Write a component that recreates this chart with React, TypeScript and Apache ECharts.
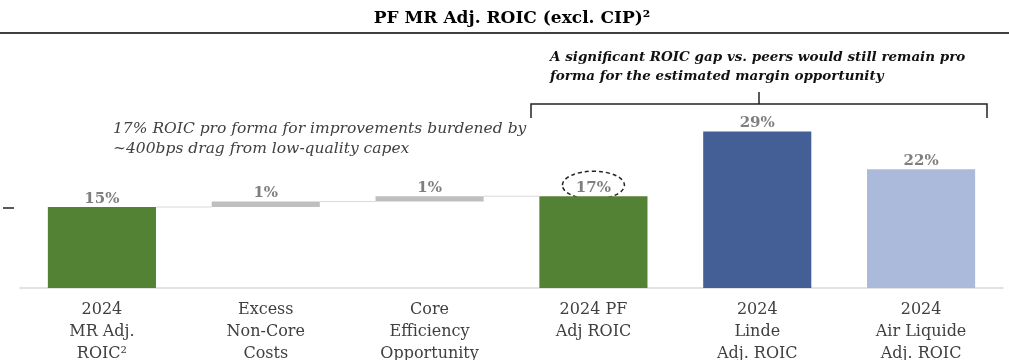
import React, { useEffect, useRef } from "react";
import * as echarts from "echarts";

const categories = [
  "2024\nMR Adj.\nROIC²",
  "Excess\nNon-Core\nCosts",
  "Core\nEfficiency\nOpportunity",
  "2024 PF\nAdj ROIC",
  "2024\nLinde\nAdj. ROIC",
  "2024\nAir Liquide\nAdj. ROIC",
];
const values = [15, 1, 1, 17, 29, 22];
const isDelta = [false, true, true, false, false, false];
const barColors = ["#548235", "#bfbfbf", "#bfbfbf", "#548235", "#445f96", "#abbadb"];
const valueLabels = ["15%", "1%", "1%", "17%", "29%", "22%"];

const titleText = "PF MR Adj. ROIC (excl. CIP)²";
const noteLeft = ["17% ROIC pro forma for improvements burdened by", "~400bps drag from low-quality capex"];
const noteRight = ["A significant ROIC gap vs. peers would still remain pro", "forma for the estimated margin opportunity"];

const SERIF = "'DejaVu Serif', 'Liberation Serif', serif";

export default function App() {
  const ref = useRef<HTMLDivElement>(null);
  useEffect(() => {
    if (!ref.current) return;
    const chart = echarts.init(ref.current, undefined, { renderer: "svg" });

    // running totals for waterfall
    const bases: number[] = [];
    const tops: number[] = [];
    let run = 0;
    values.forEach((v, i) => {
      if (isDelta[i]) {
        bases.push(run);
        run += v;
      } else {
        bases.push(0);
        run = v;
      }
      tops.push(run);
    });
    const connectors: number[][] = [];
    for (let i = 0; i < values.length - 1; i++) {
      if (isDelta[i] || isDelta[i + 1]) connectors.push([i, tops[i]]);
    }

    const option: any = {
      animation: false,
      grid: { left: 20, right: 6, top: 126, bottom: 72, outerBoundsMode: "none", containLabel: false },
      xAxis: {
        type: "category",
        data: categories,
        axisLine: { lineStyle: { color: "#d9d9d9", width: 1.5 } },
        axisTick: { show: false },
        axisLabel: {
          color: "#404040",
          fontFamily: SERIF,
          fontSize: 16,
          lineHeight: 22,
          margin: 9,
          interval: 0,
        },
      },
      yAxis: { type: "value", min: 0, max: 30, show: false, splitLine: { show: false } },
      series: [
        {
          type: "bar",
          stack: "w",
          data: bases,
          itemStyle: { color: "transparent" },
          barCategoryGap: "34%",
          silent: true,
        },
        {
          type: "bar",
          stack: "w",
          data: values.map((v, i) => ({ value: v, itemStyle: { color: barColors[i] } })),
          barCategoryGap: "34%",
          label: {
            show: true,
            position: "top",
            distance: 2,
            formatter: (p: any) => valueLabels[p.dataIndex],
            color: "#7f7f7f",
            fontWeight: "bold",
            fontFamily: SERIF,
            fontSize: 15,
          },
        },
        {
          type: "custom",
          data: connectors,
          silent: true,
          z: 1,
          renderItem: (params: any, api: any) => {
            const i = api.value(0);
            const lvl = api.value(1);
            const c = api.coord([i, lvl]);
            const band = api.size([1, 0])[0];
            const bw = band * 0.66;
            return {
              type: "line",
              shape: { x1: c[0] + bw / 2, y1: c[1], x2: c[0] + band - bw / 2, y2: c[1] },
              style: { stroke: "#d9d9d9", lineWidth: 1 },
            };
          },
        },
      ],
    };
    chart.setOption(option);

    const pf = chart.convertToPixel({ seriesIndex: 1 }, [3, values[3]]) as number[];

    chart.setOption({
      graphic: [
        {
          type: "text",
          x: 512,
          y: 17,
          style: {
            text: titleText,
            fontFamily: SERIF,
            fontWeight: "bold",
            fontSize: 17,
            fill: "#000",
            align: "center",
            verticalAlign: "middle",
          },
        },
        { type: "line", shape: { x1: 0, y1: 33, x2: 1009, y2: 33 }, style: { stroke: "#000", lineWidth: 1.5 } },
        { type: "line", shape: { x1: 3, y1: 208, x2: 14, y2: 208 }, style: { stroke: "#222", lineWidth: 1.5 } },
        {
          type: "text",
          x: 113,
          y: 118,
          style: {
            text: noteLeft.join("\n"),
            fontFamily: SERIF,
            fontStyle: "italic",
            fontSize: 15.5,
            lineHeight: 20,
            fill: "#404040",
          },
        },
        {
          type: "text",
          x: 550,
          y: 46,
          style: {
            text: noteRight.join("\n"),
            fontFamily: SERIF,
            fontStyle: "italic",
            fontWeight: "bold",
            fontSize: 13.5,
            lineHeight: 19,
            fill: "#111",
          },
        },
        {
          type: "polyline",
          shape: { points: [[531, 118], [531, 104], [987, 104], [987, 118]] },
          style: { stroke: "#222", lineWidth: 1.5, fill: "none" },
        },
        { type: "line", shape: { x1: 759, y1: 92, x2: 759, y2: 104 }, style: { stroke: "#222", lineWidth: 1.5 } },
        {
          type: "ellipse",
          shape: { cx: pf[0], cy: pf[1] - 11, rx: 31, ry: 14 },
          style: { stroke: "#222", lineWidth: 1.5, fill: "none", lineDash: [4, 3] },
        },
      ],
    });

    return () => chart.dispose();
  }, []);
  return <div ref={ref} style={{ position: "fixed", left: 0, top: 0, width: 1009, height: 360 }} />;
}
